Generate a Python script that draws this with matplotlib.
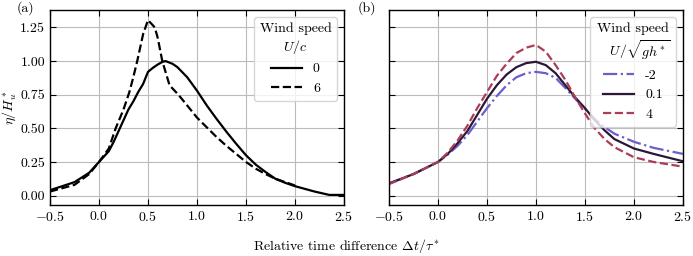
import numpy as np
import matplotlib
matplotlib.use('Agg')
import matplotlib.pyplot as plt

plt.rcParams['font.family'] = 'serif'
plt.rcParams['font.serif'] = ['cmr10']
plt.rcParams['mathtext.fontset'] = 'cm'
plt.rcParams['axes.formatter.use_mathtext'] = True
plt.rcParams['font.size'] = 10

# (a) wind speed U/c
t_a0 = [-0.5, -0.25, -0.1, 0.0, 0.1, 0.15, 0.2, 0.25, 0.3, 0.35, 0.4, 0.45, 0.5, 0.55, 0.6, 0.65,
        0.68, 0.75, 0.8, 0.9, 1.0, 1.1, 1.2, 1.3, 1.4, 1.5, 1.6, 1.7, 1.8, 1.9, 2.0, 2.1, 2.2,
        2.35, 2.5]
eta_a0 = [0.04, 0.10, 0.17, 0.25, 0.33, 0.40, 0.48, 0.56, 0.64, 0.70, 0.77, 0.83, 0.92, 0.95,
          0.975, 0.995, 1.0, 0.98, 0.955, 0.88, 0.78, 0.67, 0.57, 0.475, 0.385, 0.30, 0.23, 0.175,
          0.125, 0.095, 0.07, 0.05, 0.03, 0.005, 0.005]
t_a6 = [-0.5, -0.25, -0.1, 0.0, 0.1, 0.17, 0.25, 0.31, 0.35, 0.39, 0.45, 0.5, 0.57, 0.6, 0.646,
        0.72, 0.81, 0.9, 1.0, 1.11, 1.2, 1.3, 1.4, 1.5, 1.6, 1.7, 1.8, 1.9, 2.0]
eta_a6 = [0.03, 0.08, 0.16, 0.25, 0.35, 0.50, 0.64, 0.77, 0.88, 1.0, 1.2, 1.305, 1.25, 1.17,
          1.0, 0.82, 0.75, 0.67, 0.58, 0.50, 0.435, 0.37, 0.31, 0.25, 0.20, 0.16, 0.125,
          0.10, 0.075]
labels_a = ['0', '6']

# (b) wind speed U/sqrt(gh*)
t_b = [-0.5, -0.25, 0.0, 0.1, 0.2, 0.3, 0.4, 0.5, 0.6, 0.7, 0.8, 0.9, 1.0, 1.1, 1.2, 1.3, 1.4,
       1.5, 1.6, 1.7, 1.8, 2.0, 2.2, 2.5]
eta_bm2 = [0.09, 0.16, 0.25, 0.305, 0.37, 0.45, 0.55, 0.65, 0.74, 0.82, 0.88, 0.91, 0.92, 0.91,
           0.875, 0.80, 0.72, 0.645, 0.57, 0.51, 0.46, 0.40, 0.355, 0.31]
eta_b01 = [0.09, 0.16, 0.25, 0.31, 0.39, 0.48, 0.60, 0.72, 0.82, 0.90, 0.955, 0.985, 0.995, 0.97,
           0.91, 0.82, 0.73, 0.65, 0.56, 0.485, 0.42, 0.35, 0.31, 0.255]
eta_b4 = [0.085, 0.16, 0.25, 0.32, 0.41, 0.52, 0.65, 0.77, 0.89, 0.98, 1.06, 1.10, 1.12, 1.07,
          0.97, 0.86, 0.73, 0.61, 0.50, 0.42, 0.36, 0.285, 0.25, 0.215]
labels_b = ['-2', '0.1', '4']

fig = plt.figure(figsize=(6.93, 2.56), dpi=100)
ax1 = fig.add_axes([50 / 693, 51 / 256, 294 / 693, 195 / 256])
ax2 = fig.add_axes([389 / 693, 51 / 256, 294 / 693, 195 / 256], sharey=ax1)

ax1.plot(t_a0, eta_a0, color='black', lw=1.6, ls='-', label=labels_a[0])
ax1.plot(t_a6, eta_a6, color='black', lw=1.6, ls='--', label=labels_a[1])

ax2.plot(t_b, eta_bm2, color='#6a5fcb', lw=1.6, ls='-.', label=labels_b[0])
ax2.plot(t_b, eta_b01, color='#2c1737', lw=1.6, ls='-', label=labels_b[1])
ax2.plot(t_b, eta_b4, color='#ad3d56', lw=1.6, ls='--', label=labels_b[2])

fmt_x = matplotlib.ticker.FuncFormatter(lambda v, p: '$%.1f$' % v)
for ax in (ax1, ax2):
    ax.set_xlim(-0.5, 2.5)
    ax.set_xticks([-0.5, 0.0, 0.5, 1.0, 1.5, 2.0, 2.5])
    ax.xaxis.set_major_formatter(fmt_x)
    ax.grid(True, color='#bbbbbb', lw=0.8)
    ax.set_axisbelow(True)
    ax.tick_params(direction='in', top=True, right=True, length=4)
    for s in ax.spines.values():
        s.set_linewidth(1.0)

ax1.set_ylim(-0.07, 1.38)
ax1.set_yticks([0.0, 0.25, 0.5, 0.75, 1.0, 1.25])
ax1.yaxis.set_major_formatter(matplotlib.ticker.FormatStrFormatter('%.2f'))
plt.setp(ax2.get_yticklabels(), visible=False)

leg1 = ax1.legend(title='Wind speed\n$U/c$', loc='upper right', fancybox=True,
                  framealpha=0.8, edgecolor='#cccccc', handlelength=2.2)
leg2 = ax2.legend(title='Wind speed\n   $U/\\sqrt{gh^*}$', loc='upper right', fancybox=True,
                  framealpha=0.8, edgecolor='#cccccc', handlelength=2.2)
for leg in (leg1, leg2):
    leg.get_title().set_multialignment('center')
    leg._legend_box.align = 'center'

ax1.set_ylabel('$\\eta/H_u^*$')
ax1.yaxis.set_label_coords(-0.105, 0.5)
fig.text(0.5, 0.04, 'Relative time difference $\\Delta t/\\tau^*$', ha='center', va='center')
fig.text(25 / 693, 1 - 8 / 256, '(a)', ha='center', va='center')
fig.text(367 / 693, 1 - 8 / 256, '(b)', ha='center', va='center')

fig.savefig('out.png', dpi=100)
